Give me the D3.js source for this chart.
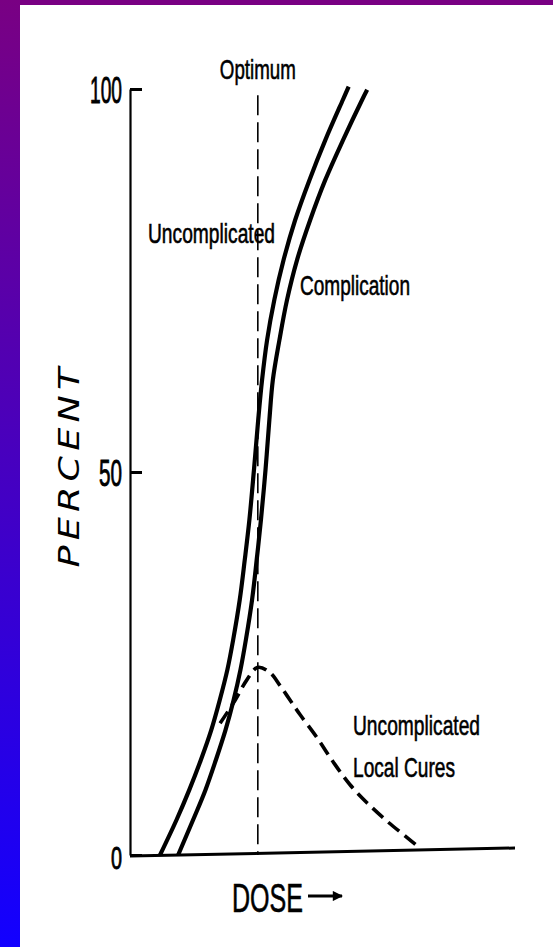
<!DOCTYPE html>
<html>
<head>
<meta charset="utf-8">
<script src="https://cdn.jsdelivr.net/npm/d3@7"></script>
<style>
  html, body { margin: 0; padding: 0; background: #fff; }
  svg { display: block; }
  .lbl { font-family: "Liberation Sans", Arial, sans-serif; fill: #000; stroke: #000; stroke-width: 0.6px; }
</style>
</head>
<body>
<script>
// values (dose in arbitrary units 0-100, percent 0-100)
var curvePct   = [0, 4.6, 8.5, 12.4, 16.3, 20.2, 24.2, 28.1, 33.3, 38.5, 43.7, 50.3, 56.8, 62.0, 67.2, 72.5, 77.7, 82.9, 88.1, 93.3, 98.6];
var uncompDose = [7.8, 12.1, 15.4, 18.4, 21.1, 23.3, 25.3, 26.8, 28.5, 29.8, 31.0, 32.2, 33.3, 34.3, 35.6, 37.5, 39.9, 42.9, 46.6, 50.7, 55.3, 56.8];
var uncompPct  = curvePct.concat([100.3]);
var complDose  = [12.5, 16.4, 19.6, 22.3, 24.8, 26.9, 28.7, 30.1, 31.7, 32.9, 34.0, 35.2, 36.2, 37.1, 38.8, 40.8, 43.4, 46.8, 50.7, 55.3, 60.3, 61.6];
var complPct   = curvePct.concat([99.9]);

var cureDose = [23.4, 27.3, 30.4, 33.2, 36.4, 39.0, 41.6, 44.2, 48.6, 52.7, 57.1, 61.6, 66.8, 71.9, 75.3];
var curePct  = [17.2, 20.2, 22.9, 24.5, 23.8, 22.1, 20.2, 18.3, 15.3, 12.2, 9.2, 6.8, 4.4, 2.3, 0.9];

var optimumDose = 33.2;
var yTicks = [0, 50, 100];
var yTickLabels = ["0", "50", "100"];

var canvasWidth = 553;
var canvasHeight = 947;
var xScale, yScale, svg;

function zipData(xs, ys) {
	return xs.map(function(d, i) { return {dose: d, pct: ys[i]}; });
}

function initCanvas() {
	svg = d3.select("body").append("svg")
		.attr("width", canvasWidth)
		.attr("height", canvasHeight);

	var defs = svg.append("defs");
	var grad = defs.append("linearGradient")
		.attr("id", "side")
		.attr("x1", 0).attr("y1", 0).attr("x2", 0).attr("y2", 1);
	grad.append("stop").attr("offset", "0%").attr("stop-color", "#790083");
	grad.append("stop").attr("offset", "100%").attr("stop-color", "#1200ff");

	defs.append("marker")
		.attr("id", "arrowhead")
		.attr("viewBox", "0 0 10 10")
		.attr("refX", 9).attr("refY", 5)
		.attr("markerWidth", 4).attr("markerHeight", 3.4)
		.attr("markerUnits", "strokeWidth")
		.attr("orient", "auto")
		.append("path").attr("d", "M0,0L10,5L0,10z").attr("fill", "#000");

	svg.append("rect").attr("x", 0).attr("y", 0)
		.attr("width", canvasWidth).attr("height", 5).attr("fill", "#790083");
	svg.append("rect").attr("x", 0).attr("y", 0)
		.attr("width", 20).attr("height", canvasHeight).attr("fill", "url(#side)");
}

function initScales() {
	xScale = d3.scaleLinear().domain([0, 100]).range([130, 515]);
	yScale = d3.scaleLinear().domain([0, 100]).range([855, 89]);
}

function drawAxes() {
	var yAxis = d3.axisLeft(yScale)
		.tickValues(yTicks)
		.tickFormat(function(d, i) { return yTickLabels[i]; })
		.tickSizeInner(-12)
		.tickSizeOuter(0)
		.tickPadding(8);

	var g = svg.append("g")
		.attr("transform", "translate(" + xScale(0) + ",0)")
		.call(yAxis);

	g.select(".domain").attr("stroke", "#000").attr("stroke-width", 2.2);
	g.selectAll(".tick line").attr("stroke", "#000").attr("stroke-width", 3);
	g.selectAll(".tick text")
		.attr("class", "lbl")
		.style("stroke-width", "0.9px")
		.attr("font-size", function(d) { return d == 0 ? 31 : 37; })
		.attr("dy", function(d) { return d == 0 ? "0.42em" : "0.36em"; })
		.attr("textLength", function(d) { return d == 100 ? 32 : (d == 50 ? 23 : 11); })
		.attr("lengthAdjust", "spacingAndGlyphs");

	// baseline, slightly tilted as in the scan
	svg.append("line")
		.attr("x1", xScale(0)).attr("y1", yScale(0) + 1)
		.attr("x2", xScale(100)).attr("y2", yScale(0) - 7)
		.attr("stroke", "#000")
		.attr("stroke-width", 3);
}

function drawCurves() {
	var line = d3.line()
		.x(function(d) { return xScale(d.dose); })
		.y(function(d) { return yScale(d.pct); })
		.curve(d3.curveCatmullRom);

	// optimum marker
	svg.append("line")
		.attr("x1", xScale(optimumDose)).attr("x2", xScale(optimumDose))
		.attr("y1", yScale(99.2)).attr("y2", yScale(0))
		.attr("stroke", "#000")
		.attr("stroke-width", 1.6)
		.attr("stroke-dasharray", "20,7");

	svg.append("path")
		.datum(zipData(uncompDose, uncompPct))
		.attr("d", line)
		.attr("fill", "none").attr("stroke", "#000").attr("stroke-width", 4.2);

	svg.append("path")
		.datum(zipData(complDose, complPct))
		.attr("d", line)
		.attr("fill", "none").attr("stroke", "#000").attr("stroke-width", 4.2);

	svg.append("path")
		.datum(zipData(cureDose, curePct))
		.attr("d", line)
		.attr("fill", "none").attr("stroke", "#000").attr("stroke-width", 3.6)
		.attr("stroke-dasharray", "14,7");
}

function addText(txt, x, y, size, len, anchor) {
	svg.append("text")
		.attr("class", "lbl")
		.attr("x", x).attr("y", y)
		.attr("font-size", size)
		.attr("text-anchor", anchor || "start")
		.attr("textLength", len)
		.attr("lengthAdjust", "spacingAndGlyphs")
		.text(txt);
}

function drawLabels() {
	addText("Optimum", xScale(optimumDose), 79, 28, 76, "middle");
	addText("Uncomplicated", 148, 243, 28, 127);
	addText("Complication", 300, 295, 28, 110);
	addText("Uncomplicated", 353, 735, 28, 127);
	addText("Local Cures", 353, 777, 28, 102);
	addText("DOSE", 232, 912, 41, 71);

	svg.append("line")
		.attr("x1", 308).attr("y1", 896)
		.attr("x2", 342).attr("y2", 896)
		.attr("stroke", "#000")
		.attr("stroke-width", 3)
		.attr("marker-end", "url(#arrowhead)");

	svg.append("text")
		.attr("transform", "translate(79,465) rotate(-90)")
		.attr("text-anchor", "middle")
		.attr("font-family", "'DejaVu Sans', sans-serif")
		.attr("font-style", "italic")
		.attr("font-size", 28)
		.attr("letter-spacing", 4)
		.attr("textLength", 205)
		.attr("lengthAdjust", "spacingAndGlyphs")
		.text("PERCENT");
}

initCanvas();
initScales();
drawAxes();
drawCurves();
drawLabels();
</script>
</body>
</html>
